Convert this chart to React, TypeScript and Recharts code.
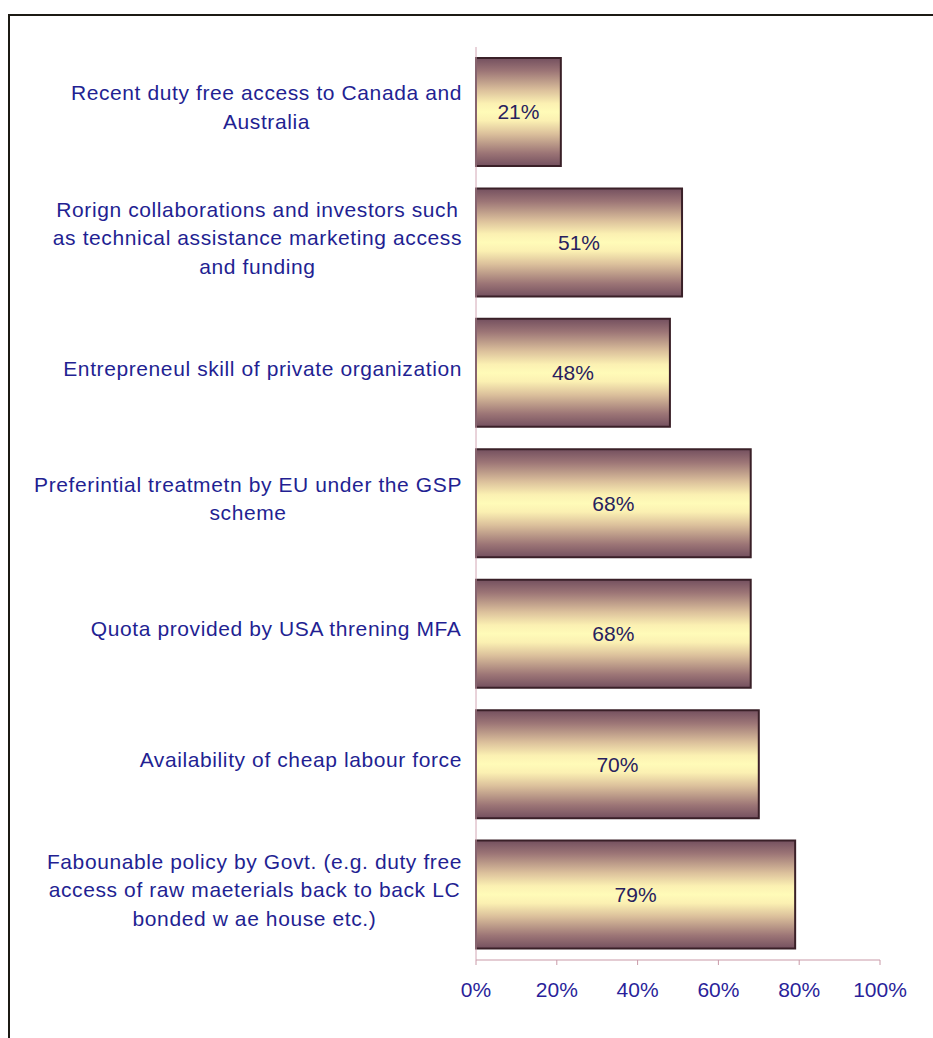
import React from "react";
import { BarChart, Bar, XAxis, YAxis, LabelList } from "recharts";

// factors, top to bottom, already broken into the lines they are printed on
const factorLines: string[][] = [
  ["Recent duty free access to Canada and", "Australia"],
  ["Rorign collaborations and investors such", "as technical assistance marketing access", "and funding"],
  ["Entrepreneul skill of private organization"],
  ["Preferintial treatmetn by EU under the GSP", "scheme"],
  ["Quota provided by USA threning MFA"],
  ["Availability of cheap labour force"],
  ["Fabounable policy by Govt. (e.g. duty free", "access of raw maeterials back to back LC", "bonded w ae house etc.)"],
];
const shares = [21, 51, 48, 68, 68, 70, 79];
const percentTicks = [0, 20, 40, 60, 80, 100];

const data = factorLines.map((lines, i) => ({ name: lines.join(" "), value: shares[i] }));

const FONT = '"Liberation Sans", Arial, sans-serif';
const LABEL_SIZE = 21;
const LABEL_SPACING = 0.6;
const LINE_HEIGHT = 28.5;
const LABEL_RIGHT = 462;

let ctx: CanvasRenderingContext2D | null = null;
function textWidth(s: string) {
  if (!ctx) ctx = document.createElement("canvas").getContext("2d");
  if (!ctx) return s.length * 10;
  ctx.font = `${LABEL_SIZE}px ${FONT}`;
  return ctx.measureText(s).width + s.length * LABEL_SPACING;
}

function FactorTick(props: any) {
  const { y, payload } = props;
  const lines = factorLines[payload.index] ?? [String(payload.value)];
  const w = Math.max(...lines.map(textWidth));
  const cx = LABEL_RIGHT - w / 2;
  const first = y - 5 - ((lines.length - 1) * LINE_HEIGHT) / 2 + 7.5;
  return (
    <text
      textAnchor="middle"
      fill="#231f92"
      fontSize={LABEL_SIZE}
      fontFamily={FONT}
      letterSpacing={LABEL_SPACING}
    >
      {lines.map((l, i) => (
        <tspan key={i} x={cx} y={first + i * LINE_HEIGHT}>
          {l}
        </tspan>
      ))}
    </text>
  );
}

export default function App() {
  return (
    <div style={{ position: "absolute", left: 0, top: 0, width: 933, height: 1038, overflow: "hidden", background: "#fff" }}>
      <div
        style={{
          position: "absolute",
          left: 8,
          top: 14,
          width: 1000,
          height: 1100,
          borderTop: "2px solid #1c1a14",
          borderLeft: "2px solid #1c1a14",
        }}
      />
      <div style={{ position: "absolute", left: 0, top: 0 }}>
        <BarChart
          width={933}
          height={1038}
          layout="vertical"
          data={data}
          margin={{ top: 47, right: 53, bottom: 38, left: 0 }}
        >
          <defs>
            <linearGradient id="barShade" x1="0" y1="0" x2="0" y2="1">
              <stop offset="0%" stopColor="#74505f" />
              <stop offset="12%" stopColor="#9c7576" />
              <stop offset="30%" stopColor="#dcc19c" />
              <stop offset="42%" stopColor="#fbf0b2" />
              <stop offset="50%" stopColor="#fffbb8" />
              <stop offset="58%" stopColor="#fbf0b2" />
              <stop offset="70%" stopColor="#dcc19c" />
              <stop offset="88%" stopColor="#9c7576" />
              <stop offset="100%" stopColor="#74505f" />
            </linearGradient>
          </defs>
          <XAxis
            type="number"
            domain={[0, 100]}
            ticks={percentTicks}
            tickFormatter={(v) => `${v}%`}
            height={40}
            tickSize={5}
            tickMargin={17}
            stroke="#c99aa8"
            tick={{ fill: "#2a1f9a", fontSize: 21, fontFamily: FONT }}
          />
          <YAxis
            type="category"
            dataKey="name"
            width={476}
            tickLine={false}
            stroke="#d2a6b4"
            tick={<FactorTick />}
            interval={0}
          />
          <Bar
            dataKey="value"
            barSize={108}
            fill="url(#barShade)"
            stroke="#3a2028"
            strokeWidth={2}
            isAnimationActive={false}
          >
            <LabelList
              dataKey="value"
              position="center"
              formatter={(v: any) => `${v}%`}
              fill="#28215e"
              fontSize={21}
              fontFamily={FONT}
            />
          </Bar>
        </BarChart>
      </div>
    </div>
  );
}
